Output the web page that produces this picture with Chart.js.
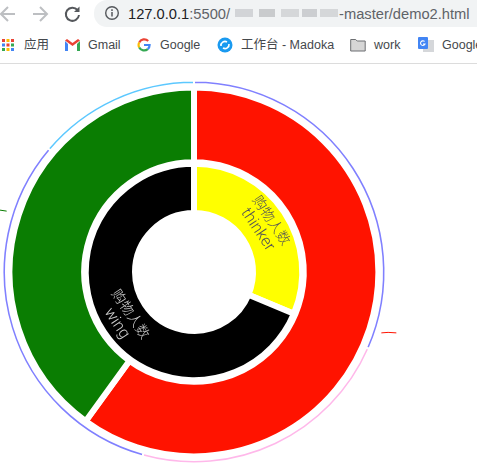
<!DOCTYPE html>
<html>
<head>
<meta charset="utf-8">
<title>demo2</title>
<script src="https://cdn.jsdelivr.net/npm/chart.js@4"></script>
<style>
  html, body { margin: 0; padding: 0; background: #fff; overflow: hidden; }
  body { width: 477px; height: 470px; position: relative; font-family: "Liberation Sans", "Noto Sans CJK SC", sans-serif; }
  #bar { position: absolute; left: 0; top: 0; width: 477px; height: 63px; border-bottom: 1px solid #dcdcdc; overflow: hidden; }
  #bar svg, #bar span, #bar div { position: absolute; }
  #pill { left: 94px; top: 0; width: 400px; height: 27px; border-radius: 13px; background: #f1f3f4; }
  .url { top: 4px; font-size: 14.7px; line-height: 20px; color: #5f6368; white-space: nowrap; }
  .mark { top: 38px; font-size: 12.5px; line-height: 14px; color: #45484c; white-space: nowrap; }
  .blur { top: 9px; height: 8px; background: #b4b6b9; }
  #chart { position: absolute; left: 0; top: 64px; }
</style>
</head>
<body>
<div id="bar">
  <svg style="left:0;top:2px" width="90" height="24" viewBox="0 0 90 24" fill="none" stroke-width="2">
    <path d="M15 12H2M8 5l-7 7 7 7" stroke="#bdbfc2"/>
    <path d="M33 12h13M40 5l7 7-7 7" stroke="#bdbfc2"/>
    <path d="M77.5 8A6.6 6.6 0 1 0 79 13" stroke="#55585c"/>
    <path d="M79.5 4.5v5.5h-5.5z" fill="#55585c"/>
  </svg>
  <div id="pill"></div>
  <svg style="left:104px;top:5px" width="16" height="16" viewBox="0 0 16 16" fill="none">
    <circle cx="8" cy="8" r="6.3" stroke="#55585c" stroke-width="1.4"/>
    <path d="M8 7v4.5M8 4.3v1.6" stroke="#55585c" stroke-width="1.5"/>
  </svg>
  <span class="url" style="left:128px"><b style="font-weight:400;color:#202124">127.0.0.1</b>:5500/</span>
  <div class="blur" style="left:235px;width:18px;opacity:.5"></div>
  <div class="blur" style="left:259px;width:16px;opacity:.65"></div>
  <div class="blur" style="left:281px;width:18px;opacity:.45"></div>
  <div class="blur" style="left:302px;width:15px;opacity:.6"></div>
  <div class="blur" style="left:320px;width:18px;opacity:.45"></div>
  <span class="url" style="left:339px">-master/demo2.html</span>

  <svg style="left:1px;top:38px" width="14" height="14" viewBox="0 0 14 14">
    <g fill="#ea4335"><rect x="1" y="1" width="3" height="3"/><rect x="10" y="1" width="3" height="3"/></g>
    <rect x="5.5" y="1" width="3" height="3" fill="#fbbc05"/>
    <rect x="1" y="5.5" width="3" height="3" fill="#4285f4"/><rect x="5.5" y="5.5" width="3" height="3" fill="#ea4335"/><rect x="10" y="5.5" width="3" height="3" fill="#34a853"/>
    <rect x="1" y="10" width="3" height="3" fill="#34a853"/><rect x="5.5" y="10" width="3" height="3" fill="#fbbc05"/><rect x="10" y="10" width="3" height="3" fill="#4285f4"/>
  </svg>
  <span class="mark" style="left:24px">应用</span>
  <svg style="left:65px;top:39px" width="15" height="12" viewBox="0 0 15 12">
    <path d="M0 2v10h3V5z" fill="#4285f4"/><path d="M15 2v10h-3V5z" fill="#34a853"/>
    <path d="M0 1.5 7.5 7 15 1.5 13 0 7.5 4 2 0z" fill="#ea4335"/>
  </svg>
  <span class="mark" style="left:88px">Gmail</span>
  <svg style="left:137px;top:38px" width="14" height="14" viewBox="0 0 14 14" fill="none" stroke-width="2.2">
    <path d="M11.2 3A5.6 5.6 0 0 0 2.2 4.5" stroke="#ea4335"/>
    <path d="M2.2 4.5a5.6 5.6 0 0 0 0 5" stroke="#fbbc05"/>
    <path d="M2.2 9.5a5.6 5.6 0 0 0 8.6 1.6" stroke="#34a853"/>
    <path d="M10.8 11.1A5.6 5.6 0 0 0 12.6 7H7" stroke="#4285f4"/>
  </svg>
  <span class="mark" style="left:160px">Google</span>
  <svg style="left:217px;top:37px" width="16" height="16" viewBox="0 0 16 16">
    <circle cx="8" cy="8" r="7.5" fill="#1a9af0"/>
    <path d="M4 9a4 4 0 0 1 6-4M12 7a4 4 0 0 1-6 4" fill="none" stroke="#fff" stroke-width="1.6"/>
  </svg>
  <span class="mark" style="left:241px">工作台 - Madoka</span>
  <svg style="left:350px;top:38px" width="16" height="14" viewBox="0 0 16 14">
    <path d="M.7 1.5h5l1.5 1.5h8v10H.7z" fill="#d6d6d6" stroke="#6d6f72"/>
  </svg>
  <span class="mark" style="left:374px">work</span>
  <svg style="left:418px;top:37px" width="16" height="16" viewBox="0 0 16 16">
    <rect x="5" y="3" width="11" height="12" fill="#d5d7da"/>
    <rect x="0" y="0" width="10" height="12" rx="1" fill="#4285f4"/>
    <path d="M6.5 4.5A2.3 2.3 0 1 0 7 7H5" fill="none" stroke="#fff" stroke-width="1.1"/>
  </svg>
  <span class="mark" style="left:442px">Google</span>
</div>
<canvas id="chart" width="477" height="406"></canvas>
<script>
const SERIES_NAME = "购物人数";

// inner ring
const innerLabels = ["thinker", "wing"];
const innerValues = [31.3, 68.7];
const innerColors = ["#ffff00", "#000000"];
const innerText = ["#555555", "#cfcfcf"];

// big ring
const outerValues = [60, 40];
const outerColors = ["#ff1300", "#0a7d02"];

// thin line ring outside
const thinValues = [113.7, 81.9, 114.7, 49.7];
const thinColors = ["#8080ff", "#ffb8ea", "#8080ff", "#5cc8ff"];

const pointAt = (arc, r, angle) => ({
  x: arc.x + r * Math.cos(angle),
  y: arc.y + r * Math.sin(angle),
});

const ringLabels = {
  id: "ringLabels",
  afterDatasetsDraw(chart) {
    const ctx = chart.ctx;
    const thin = chart.getDatasetMeta(0).data[0];

    // short label lines, most of the label itself is cut off in the page
    chart.getDatasetMeta(2).data.forEach((arc, i) => {
      const mid = (arc.startAngle + arc.endAngle) / 2;
      const from = pointAt(arc, thin.outerRadius + 5.5, mid);
      const dir = Math.cos(mid) > 0 ? 1 : -1;
      ctx.save();
      ctx.strokeStyle = outerColors[i];
      ctx.lineWidth = 1;
      ctx.beginPath();
      ctx.moveTo(from.x, from.y);
      ctx.quadraticCurveTo(from.x + dir * 6, from.y - 1, from.x + dir * 15, from.y - (dir < 0 ? 2 : 0));
      ctx.stroke();
      ctx.restore();
    });

    chart.getDatasetMeta(4).data.forEach((arc, i) => {
      const mid = (arc.startAngle + arc.endAngle) / 2;
      const c = pointAt(arc, (arc.innerRadius + arc.outerRadius) / 2 + 1, mid);
      ctx.save();
      ctx.translate(c.x, c.y);
      ctx.rotate(((mid + Math.PI / 2) % Math.PI));
      ctx.fillStyle = innerText[i];
      ctx.textAlign = "center";
      ctx.textBaseline = "middle";
      ctx.font = '200 14px "Noto Sans CJK SC", sans-serif';
      ctx.fillText(SERIES_NAME, 0, -9);
      ctx.font = '300 16px Roboto, sans-serif';
      ctx.fillText(innerLabels[i], 0, 8.5);
      ctx.restore();
    });
  },
};

new Chart(document.getElementById("chart"), {
  type: "doughnut",
  data: {
    labels: innerLabels,
    datasets: [
      { data: thinValues, backgroundColor: thinColors, borderColor: "#fff", borderWidth: 2, weight: 3.5 },
      { data: [], weight: 3.5 }, // gap between the line ring and the big ring
      { data: outerValues, backgroundColor: outerColors, borderColor: "#fff", borderWidth: 6, weight: 73.5 },
      { data: [], weight: 1.5 }, // gap between the two rings
      { data: innerValues, backgroundColor: innerColors, borderColor: "#fff", borderWidth: 6, weight: 48.5 },
    ],
  },
  options: {
    responsive: false,
    animation: false,
    cutout: 59,
    layout: { padding: { left: 1.5, right: 90.5, top: 15.5, bottom: 5.5 } },
    plugins: { legend: { display: false }, title: { display: false }, tooltip: { enabled: false } },
  },
  plugins: [ringLabels],
});
</script>
</body>
</html>
